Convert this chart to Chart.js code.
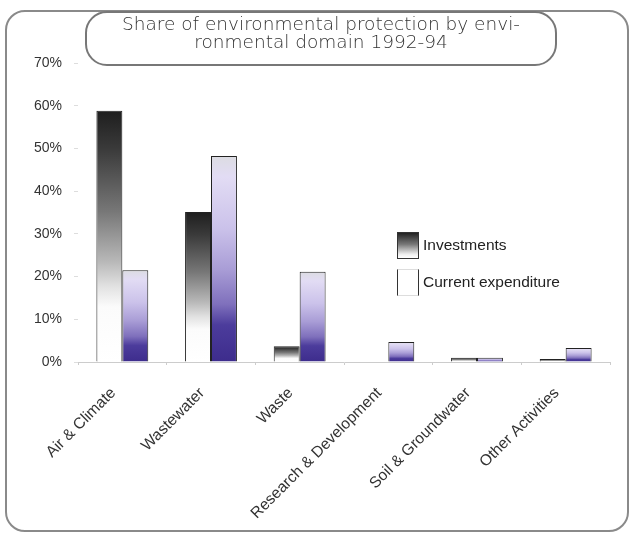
<!DOCTYPE html>
<html>
<head>
<meta charset="utf-8">
<script src="https://cdn.jsdelivr.net/npm/chart.js@4/dist/chart.umd.min.js"></script>
<style>
  body { margin: 0; background: #fff; }
  #wrap { position: relative; width: 630px; height: 535px; overflow: hidden; }
  #frame { position: absolute; left: 5px; top: 10px; width: 620px; height: 518px;
    border: 2px solid #8a8a8a; border-radius: 20px; }
  #title { position: absolute; left: 85px; top: 11px; width: 468px; height: 49px;
    border: 2px solid #777; border-radius: 22px; background: #fff;
    font-family: "DejaVu Sans", sans-serif; font-weight: 300; font-size: 18.5px; line-height: 18px;
    color: #333; text-align: center; padding-top: 2px; box-sizing: content-box; }
  #chart { position: absolute; left: 0; top: 0; }
  #legend { position: absolute; left: 397px; top: 231px; font-family: "Liberation Sans", Arial, sans-serif;
    font-size: 15.5px; color: #222; }
  .item { display: flex; align-items: center; height: 28px; margin-bottom: 9px; }
  .sw { width: 22px; height: 27px; border: 1px solid #333; margin-right: 4px; box-sizing: border-box; }
</style>
</head>
<body>
<div id="wrap">
  <div id="frame"></div>
  <canvas id="chart" width="630" height="535"></canvas>
  <div id="title">Share of environmental protection by envi-<br>ronmental domain 1992-94</div>
  <div id="legend">
    <div class="item"><div class="sw" style="background:linear-gradient(#222,#777 45%,#eee 85%,#fff)"></div>Investments</div>
    <div class="item"><div class="sw" style="background:#fff;border-top-color:#ddd;border-bottom-color:#ddd"></div>Current expenditure</div>
  </div>
</div>
<script>
const domains = ['Air & Climate', 'Wastewater', 'Waste', 'Research & Development', 'Soil & Groundwater', 'Other Activities'];
const investments = [58.8, 35.1, 3.7, 0, 1.0, 0.7];
const currentExp = [21.5, 48.2, 21.1, 4.7, 1.0, 3.3];
const yTicks = [0, 10, 20, 30, 40, 50, 60, 70];

function barGradient(context, stops) {
  const chart = context.chart;
  const area = chart.chartArea;
  if (!area || !chart.scales.y) return stops[stops.length - 1][1];
  const y = chart.scales.y;
  const top = y.getPixelForValue(context.raw);
  const bot = y.getPixelForValue(0);
  if (bot - top < 1) return stops[stops.length - 1][1];
  const g = chart.ctx.createLinearGradient(0, top, 0, bot);
  stops.forEach(s => g.addColorStop(s[0], s[1]));
  return g;
}

const invStops = [[0, '#1e1e1e'], [0.15, '#3a3a3a'], [0.4, '#777'], [0.6, '#b8b8b8'], [0.7, '#e2e2e2'], [0.78, '#fbfbfb'], [1, '#fff']];
const curStops = [[0, '#dcdce2'], [0.1, '#e2dcf4'], [0.35, '#cbc2ea'], [0.55, '#a99dd6'], [0.72, '#7f70bc'], [0.82, '#4c3c9c'], [1, '#3d2c8c']];

new Chart(document.getElementById('chart'), {
  type: 'bar',
  data: {
    labels: domains,
    datasets: [{
      label: 'Investments',
      data: investments,
      backgroundColor: c => barGradient(c, invStops),
      borderColor: '#222',
      borderWidth: 1
    }, {
      label: 'Current expenditure',
      data: currentExp,
      backgroundColor: c => barGradient(c, curStops),
      borderColor: '#222',
      borderWidth: 1
    }]
  },
  options: {
    responsive: false,
    animation: false,
    layout: { padding: { left: 0, top: 63, right: 20, bottom: 13 } },
    datasets: { bar: { barPercentage: 1, categoryPercentage: 0.585 } },
    plugins: { legend: { display: false }, tooltip: { enabled: false } },
    scales: {
      x: {
        afterFit: s => { s.height = 160; },
        grid: { display: true, drawOnChartArea: false, tickLength: 3, color: '#ccc' },
        border: { display: true, color: '#ccc', dash: [2, 3] },
        ticks: { maxRotation: 45, minRotation: 45, color: '#333', padding: 19, labelOffset: -9,
          font: { family: 'Liberation Sans', size: 15.6 } }
      },
      y: {
        min: 0, max: 70,
        afterFit: s => { s.width = 78; },
        afterBuildTicks: s => { s.ticks = yTicks.map(v => ({ value: v })); },
        grid: { drawOnChartArea: false, tickLength: 4, color: '#ddd' },
        border: { display: false },
        ticks: { color: '#333', padding: 12, callback: v => v + '%',
          font: { family: 'Liberation Sans', size: 14 } }
      }
    }
  }
});
</script>
</body>
</html>
